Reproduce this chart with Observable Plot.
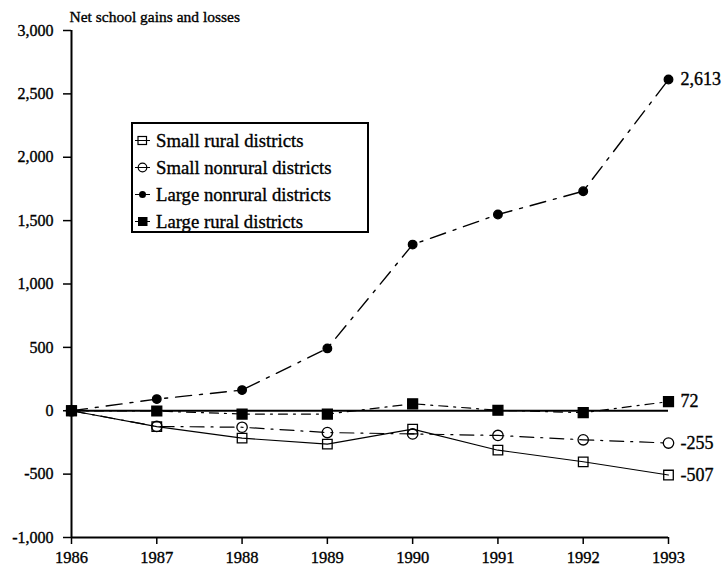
<!DOCTYPE html>
<html>
<head>
<meta charset="utf-8">
<script src="https://cdn.jsdelivr.net/npm/d3@7"></script>
<script src="https://cdn.jsdelivr.net/npm/@observablehq/plot@0.6"></script>
<style>
  html, body { margin: 0; padding: 0; background: #fff; }
  #wrap { position: relative; width: 724px; height: 571px; font-family: "Liberation Serif", "DejaVu Serif", serif; }
  #wrap svg text { stroke: black; stroke-width: 0.35px; }
  #legend { position: absolute; left: 131px; top: 122px; width: 238px; height: 111px; box-sizing: border-box;
            border: 2px solid #000; background: #fff; padding-top: 3px; }
  .row { display: flex; align-items: center; height: 27px; font-size: 18.7px; color: #000; -webkit-text-stroke: 0.35px black; }
  .row svg { margin-left: 0px; margin-right: 3px; }
</style>
</head>
<body>
<div id="wrap"></div>
<script>
const years = [1986, 1987, 1988, 1989, 1990, 1991, 1992, 1993];
const seriesNames = ["Small rural districts", "Small nonrural districts", "Large nonrural districts", "Large rural districts"];
const smallRural = [0, -125, -216, -263, -145, -311, -403, -507];
const smallNonrural = [0, -124, -130, -172, -183, -195, -229, -255];
const largeNonrural = [0, 92, 163, 492, 1311, 1548, 1732, 2613];
const largeRural = [0, -2, -26, -26, 55, 4, -15, 72];
const yTicks = [-1000, -500, 0, 500, 1000, 1500, 2000, 2500, 3000];
const axisTitle = "Net school gains and losses";

const valuesBySeries = [smallRural, smallNonrural, largeNonrural, largeRural];
const styles = [
  {symbol: "square", fill: "none", r: 5.4, dash: null, sw: 1.1},
  {symbol: "circle", fill: "none", r: 5.2, dash: "14,7,2,7", sw: 1.2},
  {symbol: "circle", fill: "black", r: 4.3, dash: "16,8,3,8", sw: 1.4},
  {symbol: "square", fill: "black", r: 5.6, dash: "9,6,2,6", sw: 1.2}
];

const data = [];
seriesNames.forEach((s, i) => years.forEach((yr, j) => data.push({series: s, year: yr, value: valuesBySeries[i][j]})));
const last = seriesNames.map((s, i) => ({series: s, year: years[years.length - 1], value: valuesBySeries[i][years.length - 1]}));

const fmtY = d => d3.format(",")(d).replace("\u2212", "-");
const fmtEnd = d => d3.format(",")(d).replace("\u2212", "-");

const marks = [];
marks.push(Plot.ruleX([years[0]], {y1: yTicks[0], y2: yTicks[yTicks.length - 1], strokeWidth: 2}));
marks.push(Plot.ruleY([yTicks[0]], {x1: years[0], x2: years[years.length - 1], strokeWidth: 2}));
marks.push(Plot.ruleY([0], {x1: years[0], x2: years[years.length - 1], strokeWidth: 2}));

seriesNames.forEach((s, i) => {
  const st = styles[i];
  const sub = data.filter(d => d.series === s);
  marks.push(Plot.line(sub, {x: "year", y: "value", stroke: "black", strokeWidth: st.sw, strokeDasharray: st.dash || undefined}));
});
seriesNames.forEach((s, i) => {
  const st = styles[i];
  const sub = data.filter(d => d.series === s);
  marks.push(Plot.dot(sub, {x: "year", y: "value", symbol: () => st.symbol, r: st.r, fill: st.fill, stroke: "black", strokeWidth: 1.3}));
});

marks.push(Plot.text(last, {x: "year", y: "value", text: d => fmtEnd(d.value), dx: 12, textAnchor: "start", fontSize: 18, fill: "black"}));
marks.push(Plot.text([axisTitle], {frameAnchor: "top-left", text: d => d, dx: -2, dy: -9, lineAnchor: "bottom", textAnchor: "start", fontSize: 15.5, fill: "black"}));

marks.push(Plot.axisY(yTicks, {anchor: "left", tickSize: 8, tickPadding: 10, tickFormat: fmtY, fontSize: 16, strokeWidth: 1.5, label: null}));
marks.push(Plot.axisX(years, {anchor: "bottom", tickSize: 7, tickPadding: 7, tickFormat: d => String(d), fontSize: 16.5, strokeWidth: 1.5, label: null}));

const chart = Plot.plot({
  width: 724,
  height: 571,
  marginLeft: 71,
  marginRight: 56,
  marginTop: 30,
  marginBottom: 34,
  style: {fontFamily: "Liberation Serif, DejaVu Serif, serif", background: "white", color: "black"},
  x: {domain: [years[0], years[years.length - 1]]},
  y: {domain: [yTicks[0], yTicks[yTicks.length - 1]]},
  marks
});
const wrap = document.getElementById("wrap");
wrap.appendChild(chart);

const legend = document.createElement("div");
legend.id = "legend";
const legendSym = [
  '<rect x="5" y="5.5" width="8.5" height="8" fill="none" stroke="black" stroke-width="1.2"/>',
  '<circle cx="9.5" cy="9.5" r="4.3" fill="none" stroke="black" stroke-width="1.2"/>',
  '<circle cx="9.5" cy="9.5" r="3.5" fill="black"/>',
  '<rect x="5" y="5" width="9.5" height="9" fill="black"/>'
];
seriesNames.forEach((s, i) => {
  const row = document.createElement("div");
  row.className = "row";
  row.innerHTML = '<svg width="20" height="19" viewBox="0 0 20 19"><line x1="2" y1="9.5" x2="17" y2="9.5" stroke="black" stroke-width="1"/>' + legendSym[i] + '</svg><span></span>';
  row.querySelector("span").textContent = s;
  legend.appendChild(row);
});
wrap.appendChild(legend);
</script>
</body>
</html>
